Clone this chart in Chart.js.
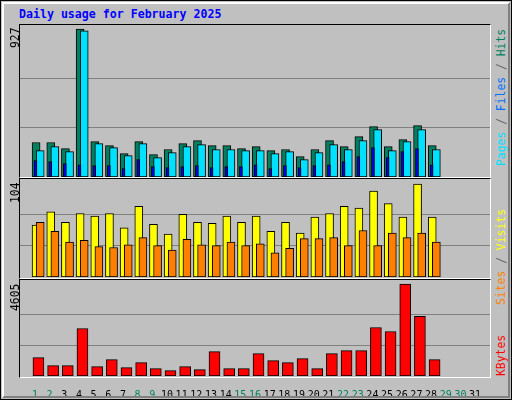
<!DOCTYPE html>
<html>
<head>
<meta charset="utf-8">
<script src="https://cdn.jsdelivr.net/npm/chart.js@4"></script>
<style>
  body { margin: 0; background: #c0c0c0; }
  #frame { position: absolute; left: 0; top: 0; width: 510px; height: 398px;
    border: 1px solid #000; background: #c0c0c0; box-sizing: content-box; }
  #inner { position: absolute; left: 1px; top: 1px; width: 504px; height: 392px;
    border-top: 2px solid #fff; border-left: 2px solid #fff;
    border-right: 2px solid #808080; border-bottom: 2px solid #808080; }
  .mono { font-family: "DejaVu Sans Mono", monospace; }
  #title { position: absolute; left: 19px; top: 7px; font-weight: bold; font-size: 11.6px; color: #0000ff; }
  .panel { position: absolute; left: 19px; width: 470px; border-top: 1px solid #000; border-left: 1px solid #000;
    border-right: 1px solid #fff; border-bottom: 1px solid #fff; }
  canvas.c { position: absolute; }
  .rot { position: absolute; transform: rotate(-90deg); transform-origin: left top; white-space: nowrap; font-size: 11.4px; color: #606060; }
</style>
</head>
<body>
<div id="frame"><div id="inner"></div></div>
<div id="title" class="mono">Daily usage for February 2025</div>
<div class="panel" style="top:24px;height:152px"></div>
<div class="panel" style="top:178px;height:99px"></div>
<div class="panel" style="top:279px;height:97px"></div>
<canvas class="c" id="c1" style="left:20px;top:25px;width:470px;height:152px"></canvas>
<canvas class="c" id="c2" style="left:20px;top:180px;width:470px;height:97px"></canvas>
<canvas class="c" id="c3" style="left:20px;top:281px;width:470px;height:115px"></canvas>
<div class="rot mono" style="left:8px;top:48px;color:#000">927</div>
<div class="rot mono" style="left:8px;top:203px;color:#000">104</div>
<div class="rot mono" style="left:8px;top:311px;color:#000">4605</div>
<div class="rot mono" style="left:494px;top:166px"><span style="color:#00e0ff">Pages</span> / <span style="color:#0070ff">Files</span> / <span style="color:#008060">Hits</span></div>
<div class="rot mono" style="left:494px;top:305px"><span style="color:#ff8000">Sites</span> / <span style="color:#ffff00">Visits</span></div>
<div class="rot mono" style="left:494px;top:376px"><span style="color:#ff0000">KBytes</span></div>
<script>
// дни месяца
const days = Array.from({ length: 31 }, (_, i) => i + 1);
const weekend = [1, 2, 8, 9, 15, 16, 22, 23, 29, 30];

// значения (февраль: 28 дней)
const hits = [216, 216, 178, 927, 222, 197, 146, 222, 140, 172, 209, 228, 197, 197, 178, 190, 165, 172, 128, 172, 228, 190, 253, 316, 190, 234, 322, 197];
const files = [165, 190, 159, 915, 209, 184, 134, 209, 121, 153, 190, 203, 172, 172, 165, 165, 146, 159, 109, 153, 203, 172, 228, 297, 165, 222, 297, 172];
const pages = [103, 96, 84, 77, 71, 71, 52, 109, 65, 59, 65, 71, 59, 65, 65, 77, 52, 71, 59, 71, 77, 96, 128, 184, 121, 159, 178, 77];
const visits = [58, 73, 61, 71, 68, 71, 55, 79, 59, 48, 70, 61, 60, 68, 61, 68, 51, 61, 49, 67, 71, 79, 77, 96, 82, 67, 104, 67];
const sites = [61, 51, 39, 41, 34, 33, 36, 44, 35, 30, 42, 36, 35, 39, 35, 37, 27, 32, 43, 43, 44, 35, 52, 35, 49, 44, 49, 39];
const kbytes = [921, 519, 519, 2378, 469, 821, 419, 670, 368, 268, 469, 318, 1223, 368, 368, 1122, 771, 670, 871, 368, 1122, 1273, 1273, 2429, 2228, 4605, 2982, 821];

// смещение столбика внутри дня
function pts(arr, shift) {
  return arr.map((v, i) => ({ x: i + 1 + shift, y: v }));
}

function bar(arr, shift, color, width, order) {
  return {
    data: pts(arr, shift), backgroundColor: color, borderColor: "#000",
    borderWidth: 1, barThickness: width, borderSkipped: false, grouped: false, order: order
  };
}

function makeChart(id, datasets, maxLabel, top, showX) {
  const yMax = maxLabel * top;
  return new Chart(document.getElementById(id), {
    type: "bar",
    data: { datasets: datasets },
    options: {
      responsive: false, animation: false,
      layout: { padding: 0 },
      plugins: { legend: { display: false }, tooltip: { enabled: false } },
      scales: {
        x: {
          type: "linear", min: 0.5, max: 31.5, display: showX,
          afterBuildTicks: s => { s.ticks = days.map(d => ({ value: d })); },
          afterFit: s => { s.height = showX ? 20 : 0; },
          grid: { display: false }, border: { display: false },
          ticks: {
            autoSkip: false, maxRotation: 0, padding: 5,
            font: { family: "DejaVu Sans Mono", size: 10 },
            color: c => weekend.includes(c.tick.value) ? "#008060" : "#000"
          }
        },
        y: {
          min: 0, max: yMax,
          afterBuildTicks: s => { s.ticks = [maxLabel / 3, maxLabel * 2 / 3].map(v => ({ value: v })); },
          afterFit: s => { s.width = 0; },
          grid: { color: "#808080", drawTicks: false },
          border: { display: false },
          ticks: { display: false }
        }
      }
    }
  });
}

function sizeCanvas(id) {
  const c = document.getElementById(id);
  c.width = parseInt(c.style.width);
  c.height = parseInt(c.style.height);
}
["c1", "c2", "c3"].forEach(sizeCanvas);

makeChart("c1", [
  bar(hits, 0.08, "#008060", 8, 3),
  bar(files, 0.36, "#00e0ff", 8, 2),
  bar(pages, 0.04, "#0000ff", 3, 1)
], 927, 1.027, false);

makeChart("c2", [
  bar(visits, 0.08, "#ffff00", 8, 2),
  bar(sites, 0.36, "#ff8000", 8, 1)
], 104, 1.043, false);

makeChart("c3", [
  bar(kbytes, 0.24, "#ff0000", 11, 1)
], 4605, 1.033, true);
</script>
</body>
</html>
